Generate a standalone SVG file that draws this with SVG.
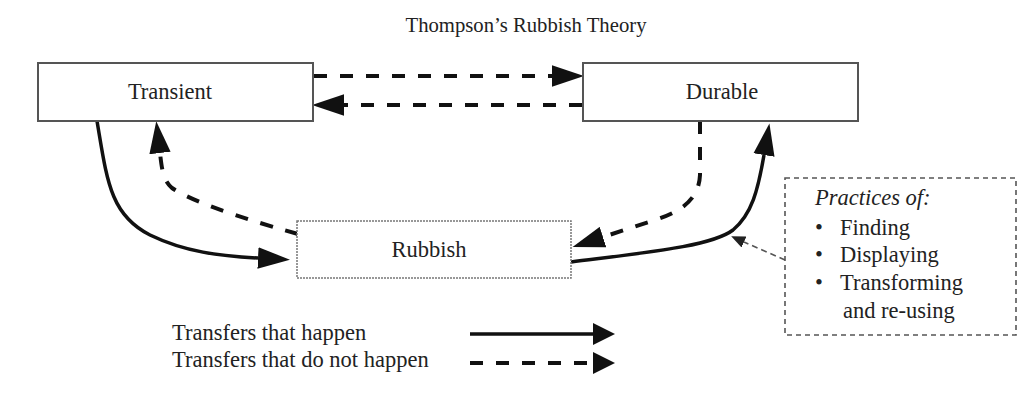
<svg xmlns="http://www.w3.org/2000/svg" width="1031" height="399" viewBox="0 0 1031 399">
<style>
text{font-family:"Liberation Serif","Times New Roman",serif;fill:#222;font-size:22.5px}
text.title{font-size:20.7px}
.box{fill:#fff;stroke:#555;stroke-width:2}
.solid{fill:none;stroke:#111;stroke-width:3.5}
.dash{fill:none;stroke:#111;stroke-width:4;stroke-dasharray:13 13}
.thin{fill:none;stroke:#555;stroke-width:1.6;stroke-dasharray:6 4}
</style>
<defs>
<marker id="ah" markerUnits="userSpaceOnUse" markerWidth="32" markerHeight="22" refX="0" refY="10" orient="auto" viewBox="0 0 30 20">
<path d="M0,0 L30,10 L0,20 z" fill="#111"/>
</marker>
<marker id="ahl" markerUnits="userSpaceOnUse" markerWidth="22" markerHeight="22" refX="0" refY="10" orient="auto" viewBox="0 0 20 20">
<path d="M0,0 L20,10 L0,20 z" fill="#111"/>
</marker>
<marker id="ahs" markerUnits="userSpaceOnUse" markerWidth="14" markerHeight="12" refX="0" refY="6" orient="auto" viewBox="0 0 14 12">
<path d="M0,0 L14,6 L0,12 z" fill="#222"/>
</marker>
</defs>
<rect width="1031" height="399" fill="#fff"/>
<text class="title" x="526" y="32" text-anchor="middle">Thompson’s Rubbish Theory</text>
<g id="connectors">
<path class="dash" d="M314,76 L552,76" marker-end="url(#ah)"/>
<path class="dash" d="M582,105 L344,105" marker-end="url(#ah)"/>
<path class="solid" d="M97,121 C107,180 110,215 150,235 C185,252 220,256 258,258" marker-end="url(#ah)"/>
<path class="dash" d="M298,234 C230,215 190,200 172,188 C163,180 162,170 160,153" marker-end="url(#ah)"/>
<path class="dash" d="M700,121 L700,175 C699,200 680,212 655,220 L603,237" marker-end="url(#ah)"/>
<path class="solid" d="M571,262 C650,252 712,246 733,230 C752,214 758,190 764,155" marker-end="url(#ah)"/>
<path class="thin" d="M785,260 L744,242" marker-end="url(#ahs)"/>
</g>
<g id="transient">
<rect class="box" x="38" y="63" width="275" height="58"/>
<text x="170" y="99" text-anchor="middle">Transient</text>
</g>
<g id="durable">
<rect class="box" x="583" y="63" width="275" height="58"/>
<text x="722" y="99" text-anchor="middle">Durable</text>
</g>
<g id="rubbish">
<rect x="297" y="221" width="274" height="57" fill="#fff" stroke="#777" stroke-width="1.5" stroke-dasharray="2 1"/>
<text x="429" y="257" text-anchor="middle">Rubbish</text>
</g>
<g id="practices">
<rect x="785" y="178" width="231" height="157" fill="none" stroke="#555" stroke-width="1.6" stroke-dasharray="5 4"/>
<text x="815" y="205" font-style="italic">Practices of:</text>
<text x="815" y="235">•</text><text x="840" y="235">Finding</text>
<text x="815" y="262">•</text><text x="840" y="262">Displaying</text>
<text x="815" y="290">•</text><text x="840" y="290">Transforming</text>
<text x="843" y="318">and re-using</text>
</g>
<g id="legend">
<text x="172" y="340">Transfers that happen</text>
<text x="172" y="367">Transfers that do not happen</text>
<path class="solid" d="M470,334 L593,334" marker-end="url(#ahl)"/>
<path class="dash" d="M470,363 L593,363" marker-end="url(#ahl)"/>
</g>
</svg>
